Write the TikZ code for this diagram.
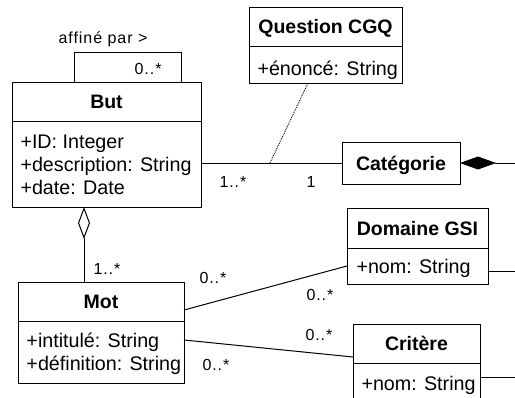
\documentclass[tikz,border=0pt]{standalone}
\usepackage{fontspec}
\setmainfont{Liberation Sans}
\newfontfamily\lblfont[LetterSpace=6]{Liberation Sans}
\usetikzlibrary{arrows.meta}
\begin{document}
\begin{tikzpicture}[x=1pt,y=-1pt,line width=1pt,
  box/.style={draw,line width=1pt,inner sep=0pt,outer sep=0pt,anchor=north west},
  title/.style={font=\bfseries\fontsize{19.5}{23}\selectfont,anchor=base,inner sep=0pt},
  attr/.style={font=\fontsize{19.7}{23}\selectfont,anchor=base west,inner sep=0pt},
  lbl/.style={font=\lblfont\fontsize{16}{18}\selectfont,anchor=base west,inner sep=0pt},
  conn/.style={line width=1pt}]
\useasboundingbox (0,0) rectangle (515,397);
\clip (0,0) rectangle (515,397);
\fill[white] (0,0) rectangle (515,397);

% ---- But
\node[box,minimum width=189,minimum height=125] (but) at (12,82) {};
\draw (12,121) -- (201,121);
\node[title] (butT) at (106.5,108.5) {But};
\node[attr] (butA1) at (20,148) {+ID: Integer};
\node[attr] (butA2) at (20,171) {+description: String};
\node[attr] (butA3) at (20,194) {+date: Date};

% ---- Question CGQ
\node[box,minimum width=153,minimum height=76] (q) at (249,7) {};
\draw (249,46) -- (402,46);
\node[title] (qT) at (325.5,33.5) {Question CGQ};
\node[attr] (qA1) at (257,75) {+énoncé: String};

% ---- Catégorie
\node[box,minimum width=118,minimum height=42] (cat) at (342,142) {};
\node[title] (catT) at (401,170) {Catégorie};

% ---- Domaine GSI
\node[box,minimum width=141,minimum height=76] (dom) at (347,208) {};
\draw (347,248) -- (488,248);
\node[title] (domT) at (417.5,235) {Domaine GSI};
\node[attr] (domA1) at (356,273) {+nom: String};

% ---- Critère
\node[box,minimum width=127,minimum height=90] (crit) at (353,324) {};
\draw (353,363) -- (480,363);
\node[title] (critT) at (416.5,350.5) {Critère};
\node[attr] (critA1) at (361,390) {+nom: String};

% ---- Mot
\node[box,minimum width=166,minimum height=101] (mot) at (18,282) {};
\draw (18,321) -- (184,321);
\node[title] (motT) at (101,308.5) {Mot};
\node[attr] (motA1) at (26,347) {+intitulé: String};
\node[attr] (motA2) at (26,370) {+définition: String};

% ---- self association on But
\coordinate (loopR) at (181,52);
\draw[conn] (but.north -| 74,0) |- (loopR) -- (but.north -| 181,0);
\node[lbl,anchor=base] (affT) at (103,43) {affiné par >};
\node[lbl,anchor=base east] (loopM) at (162,74) {0..*};

% ---- But -- Catégorie with association class Question CGQ
\draw[conn] (but.east |- cat.west) -- (cat.west);
\coordinate (dj) at (270,163);
\draw[densely dotted,line width=0.9pt] (q.south -| 308,0) -- (dj);
\node[lbl] (m1) at (219,187) {1..*};
\node[lbl] (m2) at (306,187) {1};

% ---- composition to the right of Catégorie
\coordinate (catE) at (515,163);
\draw[conn,{Diamond[length=36,width=13]}-] (cat.east) -- (catE);

% ---- lines leaving to the right
\coordinate (domE) at (515,271);
\draw[conn] (dom.east |- domE) -- (domE);
\coordinate (critE) at (515,377);
\draw[conn] (crit.east |- critE) -- (critE);

% ---- aggregation But <>-- Mot
\draw[conn,{Diamond[open,length=32,width=12]}-] (but.south -| 84,0) -- (mot.north -| 84,0);
\node[lbl] (m3) at (93,274) {1..*};

% ---- Mot -- Domaine GSI
\draw[conn] (mot.east |- 0,310) -- (dom.west |- 0,266);
\node[lbl] (m4) at (199,283) {0..*};
\node[lbl] (m5) at (306,300) {0..*};

% ---- Mot -- Critère
\draw[conn] (mot.east |- 0,340) -- (crit.west |- 0,357);
\node[lbl] (m6) at (202,370) {0..*};
\node[lbl] (m7) at (305,340) {0..*};
\end{tikzpicture}
\end{document}
